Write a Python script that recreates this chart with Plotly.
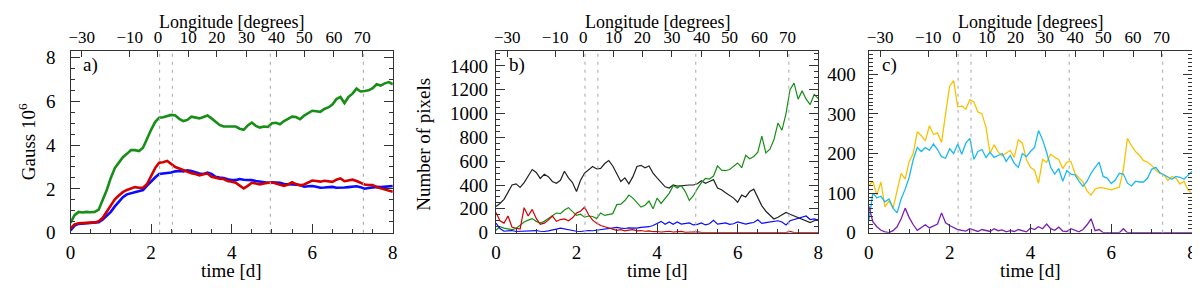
import plotly.graph_objects as go

# ---------------- data ----------------
time_d = [round(i * 0.1, 1) for i in range(81)]

# panel a  (Gauss 10^6)
green_a = [0.45,0.8,0.95,0.92,0.95,0.93,0.95,1.05,1.5,1.95,
           2.5,2.95,3.2,3.45,3.6,3.77,3.77,3.73,3.88,4.3,
           4.7,5.05,5.25,5.27,5.33,5.38,5.35,5.2,5.1,5.15,
           5.3,5.25,5.22,5.28,5.35,5.22,5.05,4.92,4.85,4.85,
           4.88,4.85,4.75,4.7,4.9,5.03,4.88,4.8,4.85,4.83,
           5.0,5.02,4.95,5.1,5.2,5.3,5.28,5.18,5.35,5.45,
           5.57,5.55,5.52,5.65,5.72,5.85,6.1,6.2,5.92,6.2,
           6.35,6.58,6.45,6.47,6.5,6.6,6.78,6.72,6.82,6.88,
           6.78]
red_a = [0.2,0.38,0.43,0.45,0.45,0.46,0.47,0.52,0.68,0.95,
         1.2,1.52,1.7,1.85,1.95,2.02,2.08,2.05,2.05,2.22,
         2.6,2.95,3.2,3.22,3.28,3.12,3.0,2.93,2.85,2.78,
         2.72,2.68,2.62,2.67,2.7,2.55,2.5,2.47,2.45,2.36,
         2.33,2.28,2.15,2.02,2.14,2.28,2.25,2.2,2.25,2.28,
         2.3,2.25,2.19,2.14,2.2,2.3,2.22,2.16,2.2,2.3,
         2.38,2.36,2.33,2.37,2.34,2.32,2.42,2.48,2.35,2.38,
         2.42,2.36,2.28,2.2,2.18,2.18,2.08,2.03,1.95,1.9,
         1.87]
blue_a = [0.1,0.32,0.4,0.42,0.42,0.43,0.45,0.48,0.6,0.78,
          0.95,1.2,1.4,1.62,1.75,1.8,1.85,1.9,1.95,2.15,
          2.35,2.52,2.68,2.7,2.72,2.75,2.8,2.82,2.8,2.85,
          2.82,2.76,2.7,2.68,2.74,2.68,2.55,2.52,2.5,2.44,
          2.4,2.4,2.45,2.42,2.42,2.4,2.36,2.33,2.3,2.28,
          2.3,2.3,2.28,2.22,2.2,2.2,2.19,2.18,2.1,2.12,
          2.13,2.1,2.05,2.06,2.08,2.09,2.05,2.04,2.06,2.08,
          2.09,2.12,2.08,2.01,2.04,2.07,2.09,2.08,2.09,2.12,
          2.13]

# panel b  (Number of pixels)
black_b = [220,245,280,340,400,410,380,420,470,530,
           505,455,490,470,430,415,440,515,460,420,
           345,440,500,525,555,535,540,580,605,560,
           500,430,460,410,470,555,565,545,560,500,
           460,420,385,375,400,390,395,395,400,400,
           410,435,415,430,445,375,360,335,310,290,
           255,315,300,345,365,295,225,180,145,115,
           130,150,170,155,140,130,115,100,85,100,
           110]
green_b = [20,50,38,30,25,35,60,90,105,118,
           95,80,95,120,145,165,160,190,210,175,
           145,155,130,140,136,118,165,145,150,160,
           235,240,270,315,290,250,215,230,265,200,
           290,245,290,330,395,375,395,345,270,310,
           370,420,455,450,475,560,525,520,530,560,
           585,545,650,620,640,675,810,670,700,780,
           920,860,1000,1200,1255,1120,1190,1120,1075,1160,
           1125]
red_b = [170,100,80,140,45,35,30,210,140,195,
         120,70,80,105,140,95,110,115,100,125,
         165,180,215,150,105,80,60,50,40,30,
         20,25,15,22,25,15,18,12,15,8,
         10,5,8,12,4,6,10,3,5,4,
         6,2,0,0,0,0,0,0,0,0,
         0,0,0,0,0,0,0,0,0,0,
         0,0,0,10,0,0,0,0,0,0,
         0]
blue_b = [80,35,12,15,18,10,12,8,12,15,
          18,12,10,15,20,30,38,30,25,18,
          12,10,15,18,16,20,25,30,35,40,
          45,38,35,40,36,38,45,48,50,60,
          80,95,70,90,70,90,72,80,82,65,
          70,82,65,75,104,72,80,82,70,75,
          90,80,72,80,85,108,78,85,90,100,
          100,90,64,100,110,118,130,140,110,115,
          105]

# panel c
yellow_c = [119,130,95,128,65,80,62,105,150,135,
            180,200,255,245,232,270,248,252,228,300,
            370,384,318,320,312,336,330,305,300,266,
            200,222,204,194,200,208,190,235,226,185,
            165,158,125,185,178,198,190,185,162,178,
            180,150,138,128,105,95,110,114,113,110,
            108,112,115,160,238,220,205,195,182,178,
            170,158,150,147,132,142,138,123,130,108,
            98]
cyan_c = [30,100,88,92,78,85,62,50,85,110,
          140,185,215,205,215,208,224,210,192,188,
          212,200,224,198,226,238,185,205,210,190,
          203,190,195,200,180,195,175,165,200,192,
          205,215,258,235,203,165,148,162,130,157,
          148,146,130,117,130,150,165,178,142,138,
          124,133,150,148,125,118,130,128,128,138,
          160,165,152,147,140,135,142,140,135,145,
          155]
purple_c = [67,28,15,6,2,0,5,15,35,62,
            38,20,6,14,20,12,18,22,50,25,
            18,12,8,6,4,10,6,3,8,5,
            3,10,5,7,2,5,3,8,4,2,
            12,8,15,10,22,10,6,14,4,3,
            10,6,2,8,20,35,5,8,0,0,
            0,0,0,10,0,0,0,0,0,0,
            0,0,0,0,0,0,0,0,0,0,
            0]

# top axis: longitude labels and their time positions
lon_labels = ["\u221230", "\u221210", "0", "10", "20", "30", "40", "50", "60", "70"]
lon_time = [0.28, 1.47, 2.17, 2.92, 3.63, 4.37, 5.11, 5.80, 6.54, 7.24]
# vertical dashed markers (time, d)
marker_times = [2.21, 2.53, 4.96, 7.27]

time_ticks = [0, 2, 4, 6, 8]
ya_ticks = [0, 2, 4, 6, 8]
yb_ticks = [0, 200, 400, 600, 800, 1000, 1200, 1400]
yc_ticks = [0, 100, 200, 300, 400]

# ---------------- figure ----------------
FONT = "Liberation Serif, Times New Roman, Times, serif"
W, H = 1200, 288
TOP, BOT = 42, 233
ydom = [1 - BOT / H, 1 - TOP / H]
xdoms = [(58, 383), (487, 812), (863, 1189)]

GREEN, RED, BLUE = "#178f17", "#d40000", "#0a0aff"
YELLOW, CYAN, PURPLE = "#f7c300", "#1cb8f2", "#7b1fb3"

fig = go.Figure()

def add(x, y, color, width, xa, ya):
    fig.add_trace(go.Scatter(x=x, y=y, mode="lines",
                             line=dict(color=color, width=width),
                             xaxis=xa, yaxis=ya,
                             showlegend=False, hoverinfo="skip"))

add(time_d, green_a, GREEN, 2.6, "x", "y")
add(time_d, blue_a, BLUE, 2.6, "x", "y")
add(time_d, red_a, RED, 2.6, "x", "y")

add(time_d, black_b, "#222222", 1.2, "x2", "y2")
add(time_d, green_b, GREEN, 1.2, "x2", "y2")
add(time_d, blue_b, BLUE, 1.2, "x2", "y2")
add(time_d, red_b, RED, 1.2, "x2", "y2")

add(time_d, yellow_c, YELLOW, 1.3, "x3", "y3")
add(time_d, cyan_c, CYAN, 1.3, "x3", "y3")
add(time_d, purple_c, PURPLE, 1.3, "x3", "y3")

# invisible traces so the top (longitude) axes are drawn
for k, ya in zip((4, 5, 6), ("y", "y2", "y3")):
    fig.add_trace(go.Scatter(x=lon_time, y=[None] * len(lon_time), mode="lines",
                             xaxis="x" + str(k), yaxis=ya, showlegend=False,
                             hoverinfo="skip", line=dict(width=0)))

tickfont = dict(family=FONT, size=19, color="black")
toptickfont = dict(family=FONT, size=17, color="black")
axcol = "#333333"

yranges = [[0, 8.3], [0, 1525], [0, 459]]
yticks = [ya_ticks, yb_ticks, yc_ticks]
yminor = [0.5, 50, 10]
ystand = [10, 3, 8]

layout = dict(width=W, height=H, margin=dict(l=0, r=0, t=0, b=0),
              paper_bgcolor="white", plot_bgcolor="white",
              font=dict(family=FONT, size=19, color="black"),
              showlegend=False)

shapes = []
annotations = []
for i in range(3):
    idx = i + 1
    sfx = "" if idx == 1 else str(idx)
    d0, d1 = xdoms[i]
    dom = [d0 / W, d1 / W]
    layout["xaxis" + sfx] = dict(
        domain=dom, range=[0, 8], anchor="y" + sfx,
        tickvals=time_ticks, ticks="inside", ticklen=9, tickwidth=1.2,
        tickcolor=axcol, showline=True, linecolor=axcol, linewidth=1.3,
        showgrid=False, zeroline=False, tickfont=tickfont,
        ticklabelstandoff=2,
        minor=dict(ticks="inside", dtick=0.5, ticklen=4, tickcolor=axcol,
                   showgrid=False))
    layout["xaxis" + str(idx + 3)] = dict(
        overlaying="x" + sfx, anchor="y" + sfx, side="top", range=[0, 8],
        tickmode="array", tickvals=lon_time, ticktext=lon_labels,
        ticks="inside", ticklen=6,
        tickwidth=1.2, tickcolor=axcol, showline=True, linecolor=axcol,
        linewidth=1.3, showgrid=False, zeroline=False, tickfont=toptickfont,
        ticklabelstandoff=0)
    layout["yaxis" + sfx] = dict(
        domain=ydom, range=yranges[i], anchor="x" + sfx,
        tickvals=yticks[i], ticks="inside", ticklen=9, tickwidth=1.2,
        tickcolor=axcol, showline=True, linecolor=axcol, linewidth=1.3,
        mirror="ticks", showgrid=False, zeroline=False, tickfont=tickfont,
        ticklabelstandoff=ystand[i],
        minor=dict(ticks="inside", dtick=yminor[i], ticklen=4,
                   tickcolor=axcol, showgrid=False))
    for t in marker_times:
        shapes.append(dict(type="line", xref="x" + sfx, yref="y" + sfx + " domain",
                           x0=t, x1=t, y0=0, y1=1,
                           line=dict(color="#b4b4b4", width=1.2, dash="3px,5px")))
    cx = (d0 + d1) / 2 / W
    annotations.append(dict(x=cx, y=1 - 273 / H, xref="paper", yref="paper",
                            text="time [d]", showarrow=False,
                            font=dict(family=FONT, size=19, color="black"),
                            xanchor="center", yanchor="middle"))
    annotations.append(dict(x=cx, y=1.0, xref="paper", yref="paper",
                            text="Longitude [degrees]", showarrow=False,
                            font=dict(family=FONT, size=18, color="black"),
                            xanchor="center", yanchor="top", borderpad=0))
    annotations.append(dict(x=(d0 + 11) / W, y=1 - 57 / H, xref="paper", yref="paper",
                            text="abc"[i] + ")", showarrow=False,
                            font=dict(family=FONT, size=19, color="black"),
                            xanchor="left", yanchor="middle"))

annotations.append(dict(x=14 / W, y=1 - 137 / H, xref="paper", yref="paper",
                        text="Gauss 10<sup>6</sup>", textangle=-90, showarrow=False,
                        font=dict(family=FONT, size=19, color="black"),
                        xanchor="center", yanchor="middle"))
annotations.append(dict(x=414 / W, y=1 - 140 / H, xref="paper", yref="paper",
                        text="Number of pixels", textangle=-90, showarrow=False,
                        font=dict(family=FONT, size=19, color="black"),
                        xanchor="center", yanchor="middle"))

layout["shapes"] = shapes
layout["annotations"] = annotations
fig.update_layout(**layout)
fig.write_html("out.html")
